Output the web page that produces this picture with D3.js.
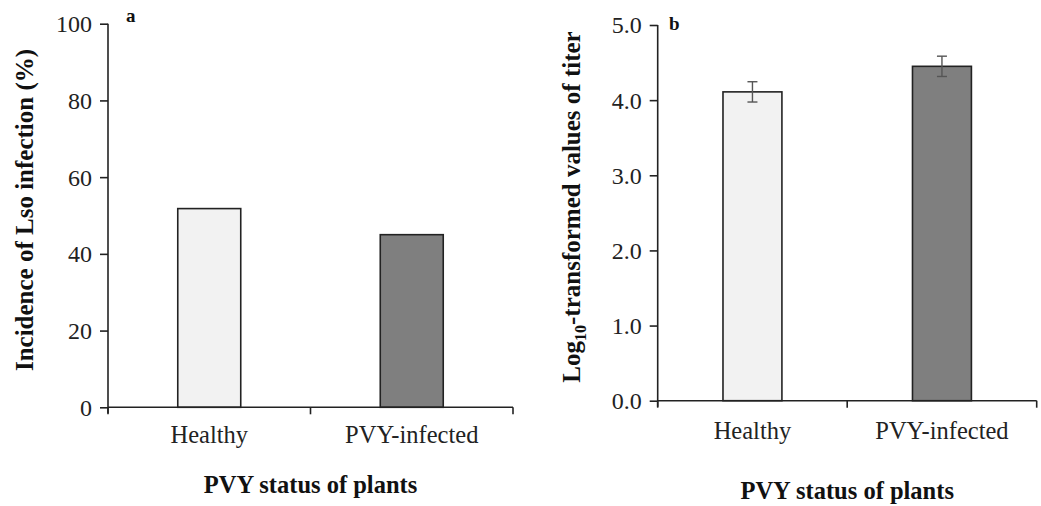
<!DOCTYPE html>
<html><head><meta charset="utf-8">
<script src="https://cdn.jsdelivr.net/npm/d3@7"></script>
<style>body{margin:0;background:#fff}svg{display:block}</style>
</head><body><svg id="c" width="1041" height="506"></svg>
<script>
const categories = ["Healthy", "PVY-infected"];
const incidenceValues = [51.8, 45.0];
const titerValues = [4.11, 4.45];
const titerErrors = [0.135, 0.135];
const incidenceTicks = [0, 20, 40, 60, 80, 100];
const titerTicks = [0, 1, 2, 3, 4, 5];
const barColors = ["#f2f2f2", "#7f7f7f"];

const FONT = "Liberation Serif";
const svg = d3.select("#c");

function panel(o) {
  const g = svg.append("g").attr("font-family", FONT);
  const x = d3.scaleBand().domain(categories).range([o.x0, o.x1]).paddingInner(0.689).paddingOuter(0.3445);
  const y = d3.scaleLinear().domain([0, o.max]).range([o.y0, o.y1]);
  // bars
  g.selectAll("rect.bar").data(o.values).enter().append("rect")
    .attr("x", (d, i) => x(categories[i]))
    .attr("width", x.bandwidth())
    .attr("y", d => y(d))
    .attr("height", d => y(0) - y(d))
    .attr("fill", (d, i) => barColors[i])
    .attr("stroke", "#222").attr("stroke-width", 1.6);
  // error bars
  if (o.errors) {
    const eg = g.selectAll("g.err").data(o.values).enter().append("g").attr("stroke", "#555").attr("stroke-width", 1.4);
    const cx = i => x(categories[i]) + x.bandwidth() / 2;
    eg.append("line").attr("x1", (d, i) => cx(i)).attr("x2", (d, i) => cx(i))
      .attr("y1", (d, i) => y(d + o.errors[i])).attr("y2", (d, i) => y(d - o.errors[i]));
    eg.append("line").attr("x1", (d, i) => cx(i) - 5).attr("x2", (d, i) => cx(i) + 5)
      .attr("y1", (d, i) => y(d + o.errors[i])).attr("y2", (d, i) => y(d + o.errors[i]));
    eg.append("line").attr("x1", (d, i) => cx(i) - 5).attr("x2", (d, i) => cx(i) + 5)
      .attr("y1", (d, i) => y(d - o.errors[i])).attr("y2", (d, i) => y(d - o.errors[i]));
  }
  // y axis
  const ya = g.append("g").attr("transform", `translate(${o.x0},0)`)
    .call(d3.axisLeft(y).tickValues(o.ticks).tickSize(8).tickPadding(8).tickFormat(o.fmt));
  ya.attr("font-family", FONT);
  ya.select(".domain").attr("stroke", "#222").attr("stroke-width", 1.6).attr("d", `M-0,${o.y1}V${o.y0 + 6}`);
  ya.selectAll(".tick line").attr("stroke", "#222").attr("stroke-width", 1.6);
  ya.selectAll(".tick text").attr("font-size", 24).attr("fill", "#222").attr("dy", "0.33em").attr("font-family", FONT);
  // x axis
  const xa = g.append("g").attr("transform", `translate(0,${o.y0})`);
  xa.append("line").attr("x1", o.x0).attr("x2", o.x1).attr("stroke", "#222").attr("stroke-width", 1.6);
  const bounds = [o.x0, (o.x0 + o.x1) / 2, o.x1];
  xa.selectAll("line.t").data(bounds).enter().append("line")
    .attr("x1", d => d).attr("x2", d => d).attr("y1", 0).attr("y2", 7)
    .attr("stroke", "#222").attr("stroke-width", 1.6);
  xa.selectAll("text").data(categories).enter().append("text")
    .attr("x", d => x(d) + x.bandwidth() / 2).attr("y", o.catY - o.y0)
    .attr("text-anchor", "middle").attr("font-size", 24.5).attr("fill", "#222").attr("font-family", FONT).text(d => d);
  // x title
  g.append("text").attr("x", (o.x0 + o.x1) / 2).attr("y", o.titleY)
    .attr("text-anchor", "middle").attr("font-size", 24.5).attr("font-weight", "bold").attr("fill", "#111").attr("font-family", FONT)
    .text("PVY status of plants");
  // y title
  const yt = g.append("text").attr("transform", `translate(${o.ytX},${o.ytY}) rotate(-90)`)
    .attr("text-anchor", "middle").attr("font-size", 25).attr("font-weight", "bold").attr("fill", "#111").attr("font-family", FONT);
  o.ytitle(yt);
  // panel letter
  g.append("text").attr("x", o.lx).attr("y", o.ly).attr("font-size", 19).attr("font-weight", "bold").attr("fill", "#111").attr("font-family", FONT).text(o.letter);
}

panel({
  x0: 108, x1: 513, y0: 407.3, y1: 23.7, max: 100, values: incidenceValues, ticks: incidenceTicks,
  fmt: d3.format("d"), catY: 443, titleY: 493, ytX: 33, ytY: 210,
  ytitle: t => t.text("Incidence of Lso infection (%)"), letter: "a", lx: 126, ly: 22
});
panel({
  x0: 657.7, x1: 1036.7, y0: 400.7, y1: 25, max: 5, values: titerValues, errors: titerErrors, ticks: titerTicks,
  fmt: d3.format(".1f"), catY: 439, titleY: 499, ytX: 580, ytY: 207,
  ytitle: t => {
    t.append("tspan").text("Log");
    t.append("tspan").attr("font-size", 16).attr("dy", 6).text("10");
    t.append("tspan").attr("dy", -6).text("-transformed  values of titer");
  }, letter: "b", lx: 669, ly: 30
});
</script></body></html>
